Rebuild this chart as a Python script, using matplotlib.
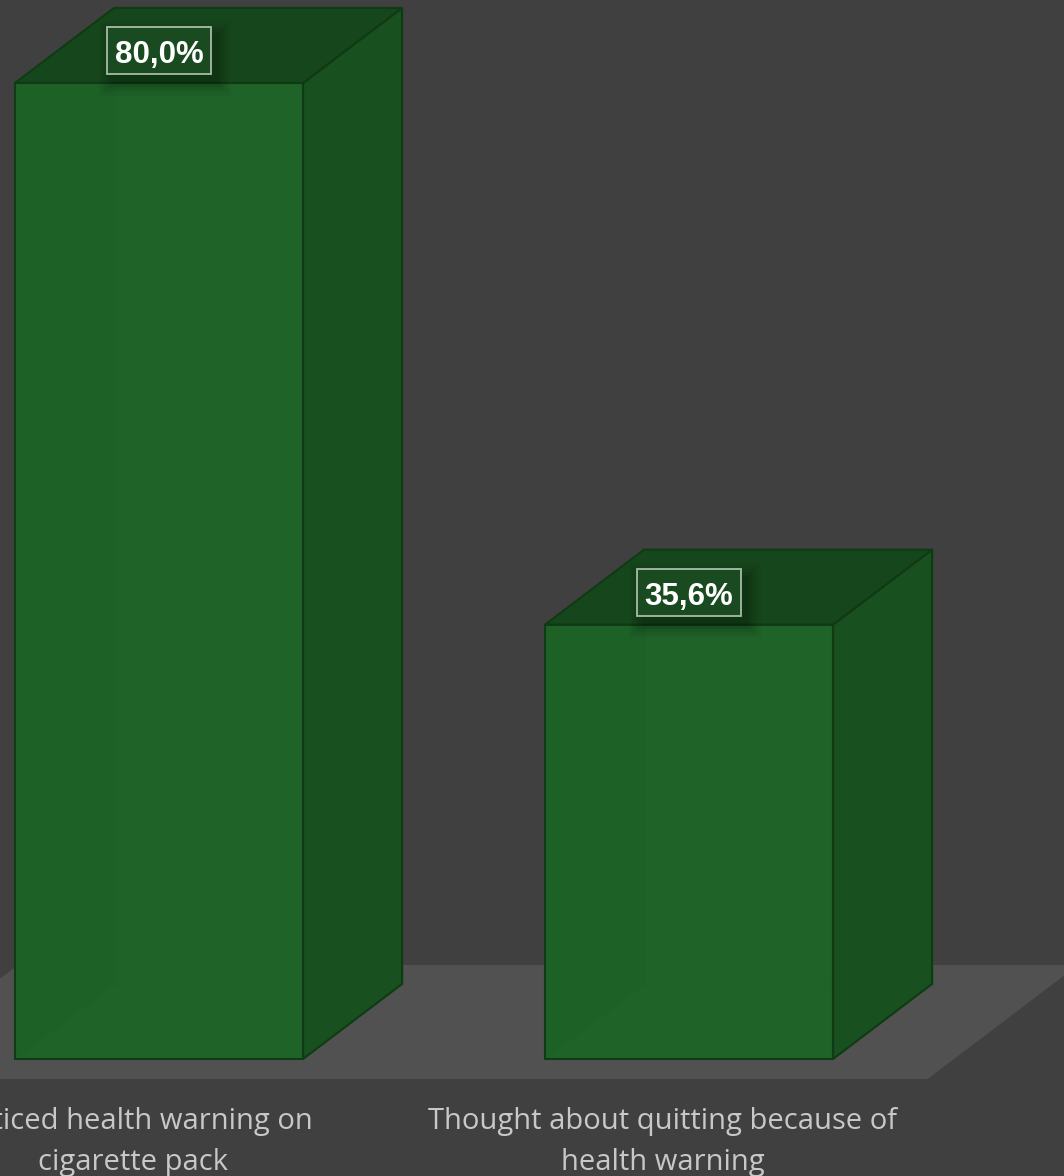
import matplotlib
matplotlib.use("Agg")
import matplotlib.pyplot as plt
import matplotlib.transforms as mtransforms
from matplotlib.patches import Polygon, Rectangle

# Data
categories = ["Noticed health warning on\ncigarette pack",
              "Thought about quitting because of\nhealth warning"]
values = [80.0, 35.6]
value_labels = ["80,0%", "35,6%"]

# Style
BG = "#404040"
FLOOR = "#515151"
FRONT = "#1f6328"
TOP = "#16461c"
SIDE = "#184f20"
EDGE = "#0f3a13"
TEXT = "#c8c8c8"

fig = plt.figure(figsize=(10.64, 11.76), dpi=100)
fig.patch.set_facecolor(BG)
ax = fig.add_axes([0, 0, 1, 1])
ax.set_facecolor(BG)
ax.axis("off")
ax.set_xlim(-0.3, 1.7075)
ax.set_ylim(-9.59, 86.80)

# oblique projection of the depth axis
DX = 99 / 530
DY = 75 / 12.2
BAR_W = 288 / 530
Z_FRONT, Z_BACK = -20 / 75, 1 + 19 / 75


def proj(x, y, z):
    return (x + z * DX, y + z * DY)


def face(pts, fc, alpha=1.0, ec=EDGE, lw=1.5, z=2):
    ax.add_patch(Polygon([proj(*p) for p in pts], closed=True, facecolor=fc,
                         edgecolor=ec, lw=lw, alpha=alpha, zorder=z,
                         joinstyle="round"))


# floor
x_lo, x_hi = -0.5, len(values) - 0.5
face([(x_lo, 0, Z_FRONT), (x_hi, 0, Z_FRONT), (x_hi, 0, Z_BACK), (x_lo, 0, Z_BACK)],
     FLOOR, ec="none", z=1)

# label box size in pixels, centred above the bar's front top edge
BOX_W, BOX_H, BOX_UP = 104, 47, 32

for i, v in enumerate(values):
    x0, x1 = i - BAR_W / 2, i + BAR_W / 2
    # hidden faces (seen through the translucent front)
    face([(x0, 0, 1), (x1, 0, 1), (x1, v, 1), (x0, v, 1)], FRONT, ec="#17501e", lw=1.0, z=2)
    face([(x0, 0, 0), (x0, 0, 1), (x0, v, 1), (x0, v, 0)], SIDE, ec="#17501e", lw=1.0, z=2)
    face([(x0, 0, 0), (x1, 0, 0), (x1, 0, 1), (x0, 0, 1)], FRONT, ec="#17501e", lw=1.0, z=2)
    # visible faces
    face([(x1, 0, 0), (x1, 0, 1), (x1, v, 1), (x1, v, 0)], SIDE, alpha=0.95, z=3)
    face([(x0, v, 0), (x1, v, 0), (x1, v, 1), (x0, v, 1)], TOP, alpha=0.97, z=3)
    face([(x0, 0, 0), (x1, 0, 0), (x1, v, 0), (x0, v, 0)], FRONT, alpha=0.93, z=4)

    # value label: pixel-sized box anchored at the bar top, with a soft shadow
    anchor = mtransforms.IdentityTransform() + mtransforms.ScaledTranslation(i, v, ax.transData)
    for grow, a in [(14, 0.04), (11, 0.04), (8, 0.05), (5, 0.06), (2, 0.07)]:
        ax.add_patch(Rectangle((-BOX_W / 2 + 6 - grow, BOX_UP - BOX_H / 2 - 8 - grow),
                               BOX_W + 2 * grow, BOX_H + 2 * grow, transform=anchor,
                               fc="black", ec="none", alpha=a, zorder=5))
    ax.add_patch(Rectangle((-BOX_W / 2, BOX_UP - BOX_H / 2), BOX_W, BOX_H,
                           transform=anchor, fc="#1a4a1f", ec="#a8bca8", lw=1.3,
                           zorder=6))
    ax.annotate(value_labels[i], xy=(i, v), xytext=(0, BOX_UP - 1),
                textcoords="offset pixels", ha="center", va="center_baseline",
                fontsize=22.5, fontweight="bold", family="Liberation Sans",
                color="white", zorder=7)

    # category label centred under the front edge of the floor
    ax.text(i + Z_FRONT * DX, -6.8, categories[i], ha="center", va="center",
            fontsize=21, family="Open Sans", color=TEXT, linespacing=1.55,
            zorder=6)

fig.savefig("out.png", dpi=100, facecolor=BG)
